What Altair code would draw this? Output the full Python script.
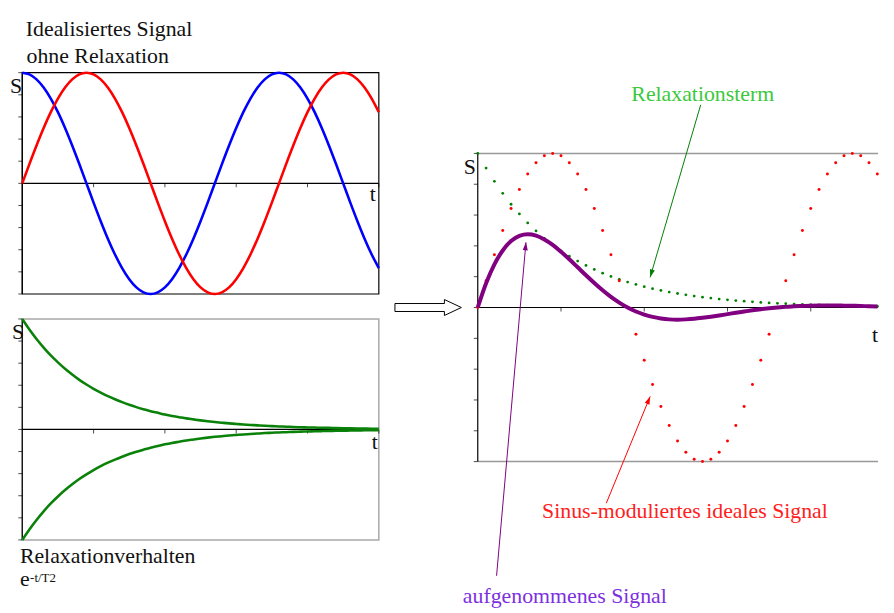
import math
import altair as alt
import pandas as pd

# ---------------- data ----------------
T = [0.0, 0.1, 0.2, 0.3, 0.4, 0.5, 0.6, 0.7, 0.8, 0.9,
     1.0, 1.1, 1.2, 1.3, 1.4, 1.5, 1.6, 1.7, 1.8, 1.9,
     2.0, 2.1, 2.2, 2.3, 2.4, 2.5, 2.6, 2.7, 2.8, 2.9,
     3.0, 3.1, 3.2, 3.3, 3.4, 3.5, 3.6, 3.7, 3.8, 3.9,
     4.0, 4.1, 4.2, 4.3, 4.4, 4.5, 4.6, 4.7, 4.8, 4.9, 5.0]

SIN = [0, .174, .342, .5, .643, .766, .866, .94, .985, 1,
       .985, .94, .866, .766, .643, .5, .342, .174, 0, -.174,
       -.342, -.5, -.643, -.766, -.866, -.94, -.985, -1, -.985, -.94,
       -.866, -.766, -.643, -.5, -.342, -.174, 0, .174, .342, .5,
       .643, .766, .866, .94, .985, 1, .985, .94, .866, .766, .643]

COS = [1, .985, .94, .866, .766, .643, .5, .342, .174, 0,
       -.174, -.342, -.5, -.643, -.766, -.866, -.94, -.985, -1, -.985,
       -.94, -.866, -.766, -.643, -.5, -.342, -.174, 0, .174, .342,
       .5, .643, .766, .866, .94, .985, 1, .985, .94, .866,
       .766, .643, .5, .342, .174, 0, -.174, -.342, -.5, -.643, -.766]

EXP = [1, .905, .819, .741, .670, .607, .549, .497, .449, .407,
       .368, .333, .301, .273, .247, .223, .202, .183, .165, .150,
       .135, .122, .111, .100, .091, .082, .074, .067, .061, .055,
       .050, .045, .041, .037, .033, .030, .027, .025, .022, .020,
       .018, .017, .015, .014, .012, .011, .010, .009, .008, .007, .007]
EXP_NEG = [-v for v in EXP]

SIGNAL = [0, .157, .280, .370, .431, .465, .475, .467, .442, .407,
          .362, .313, .261, .209, .159, .112, .069, .032, 0, -.026,
          -.046, -.061, -.071, -.077, -.079, -.077, -.073, -.067, -.060, -.052,
          -.043, -.034, -.026, -.018, -.011, -.005, 0, .004, .008, .010,
          .012, .013, .013, .013, .012, .011, .010, .008, .007, .005, .004]

Y_TICKS = [-1.0, -0.8, -0.6, -0.4, -0.2, 0.0, 0.2, 0.4, 0.6, 0.8, 1.0]
X_TICKS_LEFT = [1, 2, 3, 4, 5]
X_TICKS_RIGHT = [1, 2, 3, 4]

# annotation arrows (right panel, data coordinates)
ARROW_START_T = [2.678, 1.544, 0.226]
ARROW_START_S = [1.315, -1.270, -1.741]
ARROW_TIP_T = [2.071, 2.071, 0.579]
ARROW_TIP_S = [0.196, -0.577, 0.423]
ARROW_COLORS = ["#008000", "#ff0000", "#800080"]

# ---------------- layout ----------------
FONT = "'Liberation Serif', 'Times New Roman', 'DejaVu Serif', serif"
TL_XD, TL_YD = [-0.2, 5.15], [-1.1, 1.56]
BL_XD, BL_YD = [-0.2, 5.15], [-1.538, 1.126]
R_XD, R_YD = [-1.06, 4.809], [-1.894, 1.926]
LEFT_W, LEFT_H = 385, 297
R_W, R_H = 493, 594


def sc(dom):
    return alt.Scale(domain=dom, nice=False, zero=False)


def X(f, dom):
    return alt.X(f"{f}:Q", scale=sc(dom), axis=None)


def Y(f, dom):
    return alt.Y(f"{f}:Q", scale=sc(dom), axis=None)


def scaffold(xd, yd, t_end, xticks, kind):
    layers = []
    box = pd.DataFrame({"t0": [0], "t1": [t_end], "s0": [-1], "s1": [1]})
    if kind == "black":
        layers.append(alt.Chart(box).mark_rect(filled=False, stroke="black", strokeWidth=1.2)
                      .encode(x=X("t0", xd), x2="t1", y=Y("s0", yd), y2="s1"))
    elif kind == "gray":
        layers.append(alt.Chart(box).mark_rect(filled=False, stroke="#a8a8a8", strokeWidth=1.5)
                      .encode(x=X("t0", xd), x2="t1", y=Y("s0", yd), y2="s1"))
    else:
        edges = pd.DataFrame({"t0": [0, 0], "t1": [t_end, t_end], "s": [-1, 1]})
        layers.append(alt.Chart(edges).mark_rule(color="#999999", strokeWidth=1.5)
                      .encode(x=X("t0", xd), x2="t1", y=Y("s", yd)))
    # left axis
    layers.append(alt.Chart(pd.DataFrame({"t": [0], "s0": [-1], "s1": [1]}))
                  .mark_rule(color="black", strokeWidth=1.2)
                  .encode(x=X("t", xd), y=Y("s0", yd), y2="s1"))
    # zero line
    layers.append(alt.Chart(pd.DataFrame({"t0": [0], "t1": [t_end], "s": [0]}))
                  .mark_rule(color="black", strokeWidth=1.2)
                  .encode(x=X("t0", xd), x2="t1", y=Y("s", yd)))
    # y ticks
    layers.append(alt.Chart(pd.DataFrame({"t": [0] * len(Y_TICKS), "s": Y_TICKS}))
                  .mark_tick(orient="horizontal", size=4, thickness=1, xOffset=-2, color="black")
                  .encode(x=X("t", xd), y=Y("s", yd)))
    # x ticks
    layers.append(alt.Chart(pd.DataFrame({"t": xticks, "s": [0] * len(xticks)}))
                  .mark_tick(orient="vertical", size=4, thickness=1, yOffset=2, color="black")
                  .encode(x=X("t", xd), y=Y("s", yd)))
    return layers


def texts(df, xd, yd, align="left"):
    return (alt.Chart(df).mark_text(font=FONT, align=align, baseline="alphabetic")
            .encode(x=X("t", xd), y=Y("s", yd), text="label:N",
                    color=alt.Color("c:N", scale=None),
                    size=alt.Size("fs:Q", scale=None)))


# ---------------- top-left panel ----------------
tl_curves = pd.DataFrame({"t": T + T, "s": COS + SIN,
                          "k": ["cos"] * len(T) + ["sin"] * len(T)})
tl_lines = (alt.Chart(tl_curves).mark_line(strokeWidth=2.6, interpolate="monotone")
            .encode(x=X("t", TL_XD), y=Y("s", TL_YD),
                    color=alt.Color("k:N", scale=alt.Scale(domain=["cos", "sin"],
                                                           range=["#0000ff", "#ff0000"]),
                                    legend=None)))
tl_text = texts(pd.DataFrame({
    "label": ["Idealisiertes Signal", "ohne Relaxation", "S", "t"],
    "t": [0.05, 0.06, -0.172, 4.872],
    "s": [1.336, 1.085, 0.817, -0.16],
    "c": ["#111111"] * 4,
    "fs": [22, 22, 22, 22]}), TL_XD, TL_YD)
tl = alt.layer(*scaffold(TL_XD, TL_YD, 5, X_TICKS_LEFT, "black"), tl_lines, tl_text
               ).properties(width=LEFT_W, height=LEFT_H)

# ---------------- bottom-left panel ----------------
bl_curves = pd.DataFrame({"t": T + T, "s": EXP + EXP_NEG,
                          "k": ["up"] * len(T) + ["down"] * len(T)})
bl_lines = (alt.Chart(bl_curves).mark_line(strokeWidth=2.6, interpolate="monotone", color="#0a820a")
            .encode(x=X("t", BL_XD), y=Y("s", BL_YD), detail="k:N"))
bl_text = texts(pd.DataFrame({
    "label": ["S", "t", "Relaxationverhalten", "e", "-t/T2"],
    "t": [-0.144, 4.9, -0.033, -0.033, 0.11],
    "s": [0.821, -0.174, -1.206, -1.421, -1.385],
    "c": ["#111111"] * 5,
    "fs": [22, 22, 22, 22, 13]}), BL_XD, BL_YD)
bl = alt.layer(*scaffold(BL_XD, BL_YD, 5, X_TICKS_LEFT, "gray"), bl_lines, bl_text
               ).properties(width=LEFT_W, height=LEFT_H)

# ---------------- right panel ----------------
rdf = pd.DataFrame({"t": T, "sin": SIN, "exp": EXP, "sig": SIGNAL})
rdf = rdf[rdf["t"] <= 4.8]
red_dots = (alt.Chart(rdf).mark_circle(size=9, color="#ff0000", opacity=1)
            .encode(x=X("t", R_XD), y=Y("sin", R_YD)))
green_dots = (alt.Chart(rdf).mark_circle(size=8, color="#008000", opacity=1)
              .encode(x=X("t", R_XD), y=Y("exp", R_YD)))
purple = (alt.Chart(rdf).mark_line(strokeWidth=4, color="#800080", interpolate="monotone")
          .encode(x=X("t", R_XD), y=Y("sig", R_YD)))

px_t = R_W / (R_XD[1] - R_XD[0])
px_s = R_H / (R_YD[1] - R_YD[0])
angles = []
for t0, s0, t1, s1 in zip(ARROW_START_T, ARROW_START_S, ARROW_TIP_T, ARROW_TIP_S):
    dx = (t1 - t0) * px_t
    dy = -(s1 - s0) * px_s
    angles.append(math.degrees(math.atan2(dx, -dy)) % 360)
arrows = pd.DataFrame({"t0": ARROW_START_T, "s0": ARROW_START_S,
                       "t1": ARROW_TIP_T, "s1": ARROW_TIP_S,
                       "c": ARROW_COLORS, "a": angles})
arrow_lines = (alt.Chart(arrows).mark_rule(strokeWidth=1)
               .encode(x=X("t0", R_XD), x2="t1", y=Y("s0", R_YD), y2="s1",
                       color=alt.Color("c:N", scale=None)))
HEAD = "M0,0 L-0.32,1 L0.32,1 Z"
arrow_heads = (alt.Chart(arrows).mark_point(shape=HEAD, size=256, filled=True, opacity=1)
               .encode(x=X("t1", R_XD), y=Y("s1", R_YD),
                       color=alt.Color("c:N", scale=None),
                       angle=alt.Angle("a:Q", scale=None)))

BLOCK = "M-1,-0.12 L0.49,-0.12 L0.49,-0.24 L1,0 L0.49,0.24 L0.49,0.12 L-1,0.12 Z"
block_arrow = (alt.Chart(pd.DataFrame({"t": [-0.596], "s": [0]}))
               .mark_point(shape=BLOCK, size=4489, filled=True, fill="white",
                           stroke="black", strokeWidth=1, opacity=1)
               .encode(x=X("t", R_XD), y=Y("s", R_YD)))

r_text = texts(pd.DataFrame({
    "label": ["Relaxationsterm", "Sinus-moduliertes ideales Signal", "aufgenommenes Signal", "S"],
    "t": [1.845, 0.773, -0.179, -0.167],
    "s": [1.341, -1.367, -1.92, 0.865],
    "c": ["#3cc83c", "#ff2020", "#7d2fe0", "#111111"],
    "fs": [22, 22, 22, 22]}), R_XD, R_YD)
r_t = texts(pd.DataFrame({"label": ["t"], "t": [4.809], "s": [-0.222],
                          "c": ["#111111"], "fs": [22]}), R_XD, R_YD, align="right")

right = alt.layer(*scaffold(R_XD, R_YD, 4.809, X_TICKS_RIGHT, "topbottom"),
                  green_dots, red_dots, purple, arrow_lines, arrow_heads, block_arrow,
                  r_text, r_t).properties(width=R_W, height=R_H)

chart = (alt.hconcat(alt.vconcat(tl, bl, spacing=0), right, spacing=0)
         .properties(padding=0)
         .configure_view(strokeWidth=0))

chart.save("out.html", embed_options={"renderer": "svg", "actions": False})
